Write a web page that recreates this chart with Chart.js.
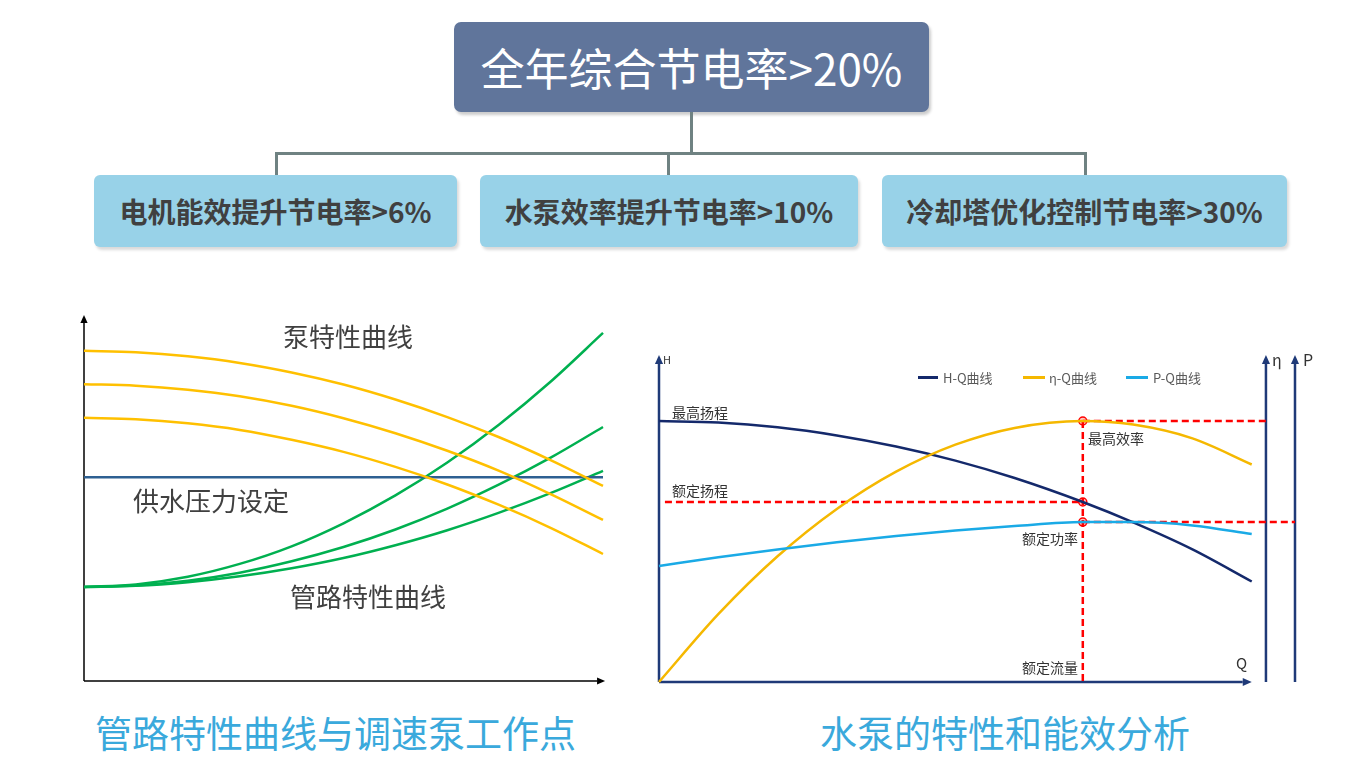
<!DOCTYPE html>
<html>
<head>
<meta charset="utf-8">
<script src="https://cdn.jsdelivr.net/npm/chart.js@4/dist/chart.umd.min.js"></script>
<style>
  body { margin: 0; width: 1364px; height: 766px; background: #fff; position: relative; overflow: hidden;
         font-family: "Noto Sans CJK SC", "Noto Sans", sans-serif; }
  .abs { position: absolute; white-space: nowrap; }
  .top { left: 454px; top: 22px; width: 475px; height: 90px; background: #60759b; border-radius: 7px; color: #fff;
         font-size: 44px; display: flex; align-items: center; justify-content: center; box-shadow: 2px 3px 3px rgba(0,0,0,.2); }
  .sub { top: 175px; height: 72px; background: #98d2e8; border-radius: 6px; color: #404040; font-size: 28px; font-weight: bold;
         display: flex; align-items: center; justify-content: center; box-shadow: 2px 3px 3px rgba(0,0,0,.15); }
  .conn { background: #6f8282; }
  .lbl { color: #404040; font-size: 26px; line-height: 26px; }
  .note { color: #333; font-size: 14px; line-height: 14px; }
  .ttl { color: #3aa9dc; font-size: 37px; line-height: 37px; }
  .leg { color: #595959; font-size: 13px; line-height: 13px; top: 371px; }
  .sw { height: 3px; top: 376px; }
  canvas { position: absolute; }
</style>
</head>
<body>
<div class="abs top">全年综合节电率&gt;20%</div>
<div class="abs conn" style="left:690px;top:112px;width:3px;height:42px"></div>
<div class="abs conn" style="left:275px;top:152px;width:812px;height:3px"></div>
<div class="abs conn" style="left:275px;top:152px;width:3px;height:23px"></div>
<div class="abs conn" style="left:667px;top:152px;width:3px;height:23px"></div>
<div class="abs conn" style="left:1084px;top:152px;width:3px;height:23px"></div>
<div class="abs sub" style="left:94px;width:363px">电机能效提升节电率&gt;6%</div>
<div class="abs sub" style="left:480px;width:378px">水泵效率提升节电率&gt;10%</div>
<div class="abs sub" style="left:882px;width:405px">冷却塔优化控制节电率&gt;30%</div>

<canvas id="pipe" width="545" height="395" style="left:74px;top:300px"></canvas>
<canvas id="pump" width="700" height="370" style="left:640px;top:330px"></canvas>

<div class="abs lbl" style="left:283px;top:323px">泵特性曲线</div>
<div class="abs lbl" style="left:133px;top:487px">供水压力设定</div>
<div class="abs lbl" style="left:290px;top:583px">管路特性曲线</div>

<div class="abs note" style="left:663px;top:352px;font-size:11px">H</div>
<div class="abs note" style="left:1236px;top:655px;font-size:15px;line-height:15px">Q</div>
<div class="abs note" style="left:1272px;top:351px;font-size:16px;line-height:16px">η</div>
<div class="abs note" style="left:1303px;top:351px;font-size:16px;line-height:16px">P</div>
<div class="abs note" style="left:672px;top:405px">最高扬程</div>
<div class="abs note" style="left:672px;top:483px">额定扬程</div>
<div class="abs note" style="left:1088px;top:431px">最高效率</div>
<div class="abs note" style="left:1022px;top:531px">额定功率</div>
<div class="abs note" style="left:1022px;top:660px">额定流量</div>

<div class="abs sw" style="left:918px;width:20px;background:#14296b"></div>
<div class="abs leg" style="left:943px">H-Q曲线</div>
<div class="abs sw" style="left:1023px;width:22px;background:#f5b800"></div>
<div class="abs leg" style="left:1049px">η-Q曲线</div>
<div class="abs sw" style="left:1126px;width:22px;background:#1aaae6"></div>
<div class="abs leg" style="left:1153px">P-Q曲线</div>

<div class="abs ttl" style="left:95px;top:714px">管路特性曲线与调速泵工作点</div>
<div class="abs ttl" style="left:820px;top:714px">水泵的特性和能效分析</div>

<script>
// left chart: pipe curves vs speed-controlled pump curves (relative units 0-100)
const pipeX = [0, 10, 20, 30, 40, 50, 60, 70, 80, 90, 100]
const pumpHigh = [90.2, 89.8, 88.7, 86.9, 84.3, 81.0, 76.9, 72.1, 66.6, 60.3, 53.3]
const pumpMid = [81.1, 80.7, 79.6, 77.8, 75.2, 71.8, 67.7, 62.9, 57.4, 51.0, 44.0]
const pumpLow = [71.9, 71.5, 70.4, 68.6, 65.9, 62.6, 58.5, 53.7, 48.1, 41.8, 34.7]
const pipeSteep = [25.7, 26.4, 28.5, 32.0, 36.8, 43.1, 50.7, 59.7, 70.1, 81.9, 95.1]
const pipeMid = [25.7, 26.1, 27.4, 29.6, 32.7, 36.6, 41.4, 47.1, 53.7, 61.1, 69.4]
const pipeFlat = [25.7, 26.0, 27.0, 28.6, 30.8, 33.6, 37.1, 41.2, 46.0, 51.4, 57.4]
const setPressure = 55.7

// right chart: pump characteristics (relative units)
const flowQ = [0, 10, 20, 30, 40, 50, 60, 71.5, 80, 90, 100]
const headHQ = [87, 86.5, 84.9, 82.2, 78.5, 73.8, 68.0, 60.0, 53.2, 44.2, 33.5]
const effEtaQ = [0, 22.6, 41.9, 57.7, 70.1, 79.1, 84.7, 87.0, 85.8, 81.2, 72.5]
const powerPQ = [38.7, 41.6, 44.2, 46.6, 48.7, 50.5, 52.0, 53.3, 53.3, 52.2, 49.3]
const ratedQ = 71.5
const ratedH = 60
const maxEta = 87
const ratedP = 53.3
const etaAxisQ = 102.4
const powerAxisQ = 107.3

// axis lines with arrow heads, given as [x0, y0, x1, y1] in data units
const arrowAxes = {
  id: 'arrowAxes',
  beforeDatasetsDraw(chart, args, opts) {
    const { ctx, scales: { x, y } } = chart
    const h = opts.head
    ctx.save()
    ctx.strokeStyle = opts.color
    ctx.fillStyle = opts.color
    ctx.lineWidth = opts.width
    opts.axes.forEach(a => {
      const x0 = x.getPixelForValue(a[0]), y0 = y.getPixelForValue(a[1])
      const x1 = x.getPixelForValue(a[2]), y1 = y.getPixelForValue(a[3])
      const ang = Math.atan2(y1 - y0, x1 - x0)
      const c = Math.cos(ang), s = Math.sin(ang)
      ctx.beginPath()
      ctx.moveTo(x0, y0)
      ctx.lineTo(x1 - c * h, y1 - s * h)
      ctx.stroke()
      ctx.beginPath()
      ctx.moveTo(x1, y1)
      ctx.lineTo(x1 - c * h + s * h * 0.45, y1 - s * h - c * h * 0.45)
      ctx.lineTo(x1 - c * h - s * h * 0.45, y1 - s * h + c * h * 0.45)
      ctx.closePath()
      ctx.fill()
    })
    ctx.restore()
  }
}

function curve(xs, ys, color, width) {
  return {
    data: xs.map((x, i) => ({ x, y: ys[i] })),
    borderColor: color,
    borderWidth: width,
    pointRadius: 0,
    cubicInterpolationMode: 'monotone',
    fill: false,
    clip: false,
  }
}

function dashed(x0, y0, x1, y1) {
  return {
    data: [{ x: x0, y: y0 }, { x: x1, y: y1 }],
    borderColor: '#ff0000',
    borderWidth: 2.5,
    borderDash: [7, 4],
    pointRadius: 0,
    clip: false,
  }
}

const YELLOW = '#ffc000'
const GREEN = '#00b050'

new Chart(document.getElementById('pipe'), {
  type: 'line',
  data: {
    datasets: [
      curve(pipeX, pumpHigh, YELLOW, 2.5),
      curve(pipeX, pumpMid, YELLOW, 2.5),
      curve(pipeX, pumpLow, YELLOW, 2.5),
      curve([0, 100], [setPressure, setPressure], '#2e6092', 2.5),
      curve(pipeX, pipeSteep, GREEN, 2.5),
      curve(pipeX, pipeMid, GREEN, 2.5),
      curve(pipeX, pipeFlat, GREEN, 2.5),
    ],
  },
  options: {
    responsive: false,
    animation: false,
    layout: { padding: { left: 10, top: 15, right: 16, bottom: 14 } },
    scales: {
      x: { type: 'linear', min: 0, max: 100, display: false },
      y: { min: 0, max: 100, display: false },
    },
    plugins: {
      legend: { display: false },
      tooltip: { enabled: false },
      arrowAxes: { color: '#000', width: 1.5, head: 8, axes: [[0, 0, 0, 100], [0, 0, 100.4, 0]] },
    },
  },
  plugins: [arrowAxes],
})

new Chart(document.getElementById('pump'), {
  type: 'line',
  data: {
    datasets: [
      curve(flowQ, powerPQ, '#1aaae6', 2.5),
      curve(flowQ, effEtaQ, '#f5b800', 2.5),
      curve(flowQ, headHQ, '#14296b', 2.5),
      dashed(1, ratedH, ratedQ, ratedH),
      dashed(ratedQ, maxEta, etaAxisQ, maxEta),
      dashed(ratedQ, ratedP, powerAxisQ, ratedP),
      dashed(ratedQ, maxEta, ratedQ, 0),
      {
        data: [{ x: ratedQ, y: maxEta }, { x: ratedQ, y: ratedH }, { x: ratedQ, y: ratedP }],
        showLine: false,
        pointRadius: 4,
        pointBackgroundColor: 'rgba(255, 90, 90, 0.35)',
        pointBorderColor: '#ff0000',
        pointBorderWidth: 1.5,
        clip: false,
      },
    ],
  },
  options: {
    responsive: false,
    animation: false,
    layout: { padding: { left: 19, top: 22, right: 29, bottom: 18 } },
    scales: {
      x: { type: 'linear', min: 0, max: 110, display: false },
      y: { min: 0, max: 110, display: false },
    },
    plugins: {
      legend: { display: false },
      tooltip: { enabled: false },
      arrowAxes: {
        color: '#1f3a78', width: 2.5, head: 9,
        axes: [[0, 0, 0, 109], [0, 0, 100, 0], [etaAxisQ, 0, etaAxisQ, 109], [powerAxisQ, 0, powerAxisQ, 109]],
      },
    },
  },
  plugins: [arrowAxes],
})
</script>
</body>
</html>
